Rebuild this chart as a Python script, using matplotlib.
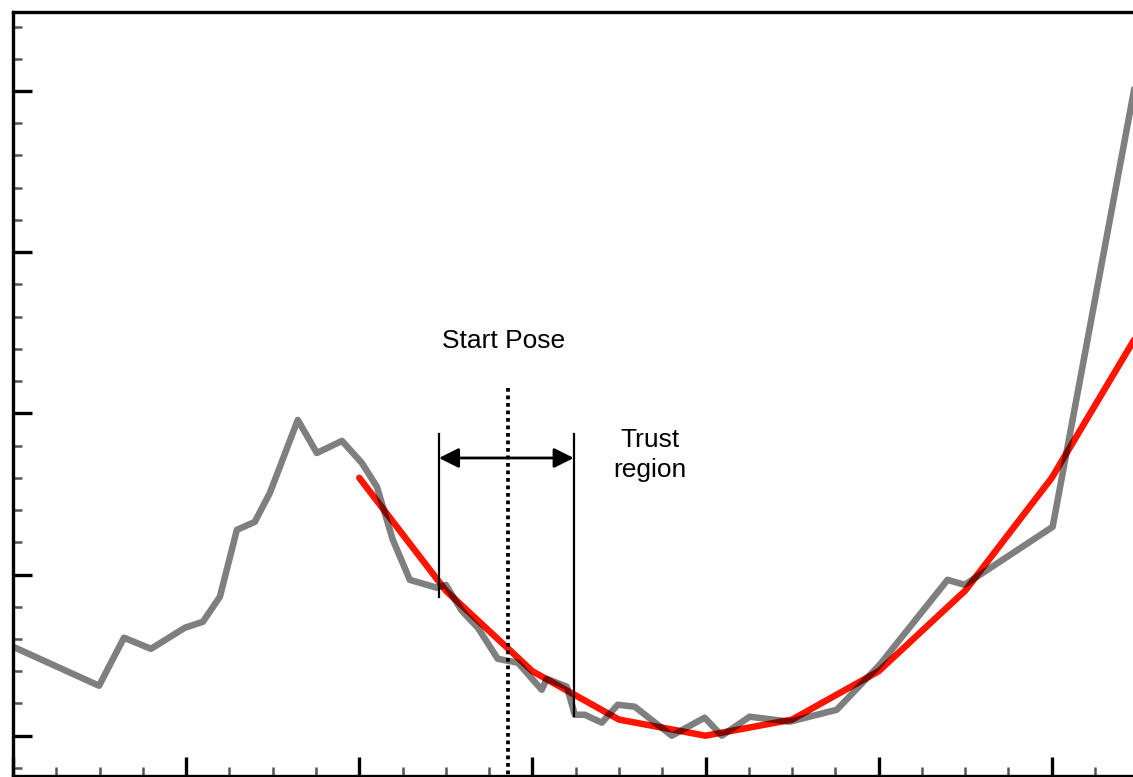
import matplotlib
matplotlib.use("Agg")
import matplotlib.pyplot as plt
from matplotlib.ticker import MultipleLocator, NullFormatter

plt.rcParams['font.family'] = ['Liberation Sans', 'DejaVu Sans']

# Measured cost along the pose axis (gray) and its quadratic fit (red)
pose_x = [0.000, 0.497, 0.641, 0.797, 0.993, 1.097, 1.195, 1.293, 1.397, 1.484,
          1.645, 1.755, 1.900, 2.015, 2.102, 2.194, 2.292, 2.448, 2.500, 2.592,
          2.685, 2.800, 2.916, 3.054, 3.083, 3.199, 3.245, 3.303, 3.401, 3.493,
          3.591, 3.805, 3.995, 4.094, 4.255, 4.486, 4.758, 5.006, 5.398, 5.497,
          6.005, 6.495]
cost = [0.552, 0.310, 0.608, 0.539, 0.670, 0.707, 0.862, 1.277, 1.327, 1.507,
        1.959, 1.754, 1.829, 1.692, 1.544, 1.215, 0.967, 0.918, 0.936, 0.775,
        0.670, 0.477, 0.453, 0.285, 0.353, 0.304, 0.130, 0.130, 0.081, 0.192,
        0.180, 0.000, 0.112, 0.000, 0.118, 0.087, 0.161, 0.440, 0.967, 0.936,
        1.296, 4.120]

fit_x = [2.0, 2.5, 3.0, 3.5, 4.0, 4.5, 5.0, 5.5, 6.0, 6.5]
fit_y = [1.6, 0.9, 0.4, 0.1, 0.0, 0.1, 0.4, 0.9, 1.6, 2.5]

start_pose = 2.858
trust_lo, trust_hi = 2.46, 3.239

W, H = 1133, 777
fig = plt.figure(figsize=(W / 100, H / 100), dpi=100)
ax = fig.add_axes([13 / W, 1 / H, (1147 - 13) / W, (776 - 12) / H])

ax.set_xlim(0, 6.55)
ax.set_ylim(-0.25, 4.49)

ax.plot(fit_x, fit_y, color='#ff1400', lw=4.7, solid_capstyle='round',
        solid_joinstyle='round', zorder=2)
ax.plot(pose_x, cost, color='black', alpha=0.5, lw=4.7,
        solid_joinstyle='round', zorder=3)

# start pose marker
ax.plot([start_pose, start_pose], [2.157, -0.25], color='black', lw=2.7,
        linestyle=(0, (1, 1)), zorder=4)
# trust region bounds
ax.plot([trust_lo, trust_lo], [1.872, 0.862], color='black', lw=1.6, zorder=4)
ax.plot([trust_hi, trust_hi], [1.872, 0.124], color='black', lw=1.6, zorder=4)
ax.annotate('', xy=(trust_lo, 1.723), xytext=(trust_hi, 1.723),
            arrowprops=dict(arrowstyle='<|-|>', color='black', lw=2,
                            mutation_scale=30, shrinkA=0, shrinkB=0),
            zorder=5)

ax.text(2.835, 2.449, 'Start Pose', ha='center', va='center', fontsize=19)
ax.text(3.678, 1.742, 'Trust\nregion', ha='center', va='center', fontsize=19,
        linespacing=1.28)

# frame and ticks
for side in ['left', 'top', 'bottom', 'right']:
    ax.spines[side].set_linewidth(2.4)
ax.xaxis.set_major_locator(MultipleLocator(1))
ax.xaxis.set_minor_locator(MultipleLocator(0.25))
ax.yaxis.set_major_locator(MultipleLocator(1))
ax.yaxis.set_minor_locator(MultipleLocator(0.2))
ax.xaxis.set_major_formatter(NullFormatter())
ax.yaxis.set_major_formatter(NullFormatter())
ax.tick_params(which='major', direction='in', length=13.5, width=2.4,
               top=False, right=False)
ax.tick_params(which='minor', direction='in', length=6.5, width=1.8,
               color='#555555', top=False, right=False)

fig.savefig('out.png', dpi=100)
